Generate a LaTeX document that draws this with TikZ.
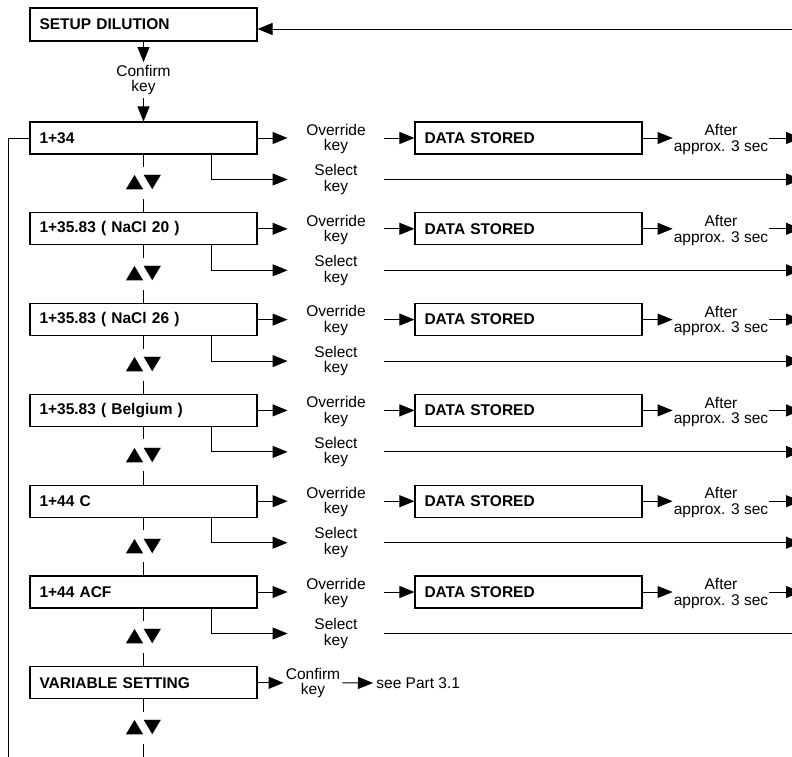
\documentclass[tikz,border=0pt]{standalone}
\usepackage{fontspec}
\setmainfont{Liberation Sans}
\newfontfamily\symfont{DejaVu Sans}
\usetikzlibrary{arrows.meta,calc}
\begin{document}
\begin{tikzpicture}[x=1pt,y=-1pt,
  font=\fontsize{15.5}{15.5}\selectfont,
  line width=0.9pt,
  arr/.style={-{Triangle[length=15pt,width=12pt]}},
  box/.style={draw,line width=1.1pt,minimum height=32pt,text width=208pt,inner xsep=9.5pt,inner ysep=0pt,align=left,font=\fontsize{15.5}{15.5}\selectfont\bfseries},
  lbl/.style={inner sep=0pt,align=center,minimum width=96pt},
  updown/.style={inner sep=0pt,minimum height=31pt,font=\symfont\fontsize{19}{19}\selectfont}
]
\useasboundingbox (0,0) rectangle (792,756);
\clip (0,0) rectangle (792,756);
\coordinate (R) at (801,0);
\node[box,minimum height=33pt] (sd) at (143.5,24.5) {SETUP DILUTION};
\node[lbl,minimum width=0pt,minimum height=35pt] (cf) at (143.5,80) {Confirm\\key};
\draw[arr] (sd.south) -- (cf.north);
\coordinate (Rt) at (801,29);
\draw[arr] (Rt) -- (Rt -| sd.east);
\foreach \i/\t in {0/{1+34},1/{1+35.83 ( NaCl 20 )},2/{1+35.83 ( NaCl 26 )},3/{1+35.83 ( Belgium )},4/{1+44 C},5/{1+44 ACF}}{
  \pgfmathsetmacro\T{122+90.8*\i}
  \node[box] (b\i) at (143.5,\T+16) {\t};
  \node[lbl] (ov\i) at (336,\T+17) {Override\\key};
  \node[box] (ds\i) at (528.5,\T+16) {DATA STORED};
  \node[lbl] (af\i) at (721,\T+17.5) {After\\approx. 3 sec};
  \node[lbl] (se\i) at (336,\T+57.5) {Select\\key};
  \node[updown] (ud\i) at (143.5,\T+61) {\scalebox{1.2}[1]{▲▼}};
  \draw[arr] (b\i.east) -- (b\i.east -| ov\i.west);
  \draw[arr] (ov\i.east |- ds\i.west) -- (ds\i.west);
  \draw[arr] (ds\i.east) -- (ds\i.east -| af\i.west);
  \draw[arr] (af\i.east |- ds\i.east) -- (ds\i.east -| R);
  \draw[arr] ([xshift=-46pt]b\i.south east) |- (se\i.west);
  \ifnum\i<5
    \draw[arr] (se\i.east) -- (se\i.east -| R);
  \else
    \draw (se\i.east) -- (se\i.east -| R);
  \fi
  \draw (b\i.south) -- (ud\i.north);
}
\draw[arr] (cf.south) -- (b0.north);
\node[box] (b6) at (143.5,682.8) {VARIABLE SETTING};
\node[lbl,minimum width=58pt] (cf6) at (313,683) {Confirm\\key};
\node[anchor=west,inner xsep=3pt,inner ysep=0pt] (see) at (373,683) {see Part 3.1};
\draw[arr] (b6.east) -- (b6.east -| cf6.west);
\draw[arr] (cf6.east |- b6.east) -- (see.west);
\node[updown] (ud6) at (143.5,727.8) {\scalebox{1.2}[1]{▲▼}};
\draw (b6.south) -- (ud6.north);
\foreach \i in {0,...,5}{
  \pgfmathtruncatemacro\j{\i+1}
  \draw (ud\i.south) -- (b\j.north);
}
\coordinate (bot) at (143.5,762);
\draw (ud6.south) -- (bot);
\coordinate (Lb) at (8,762);
\draw (b0.west) -| (Lb);
\end{tikzpicture}
\end{document}
